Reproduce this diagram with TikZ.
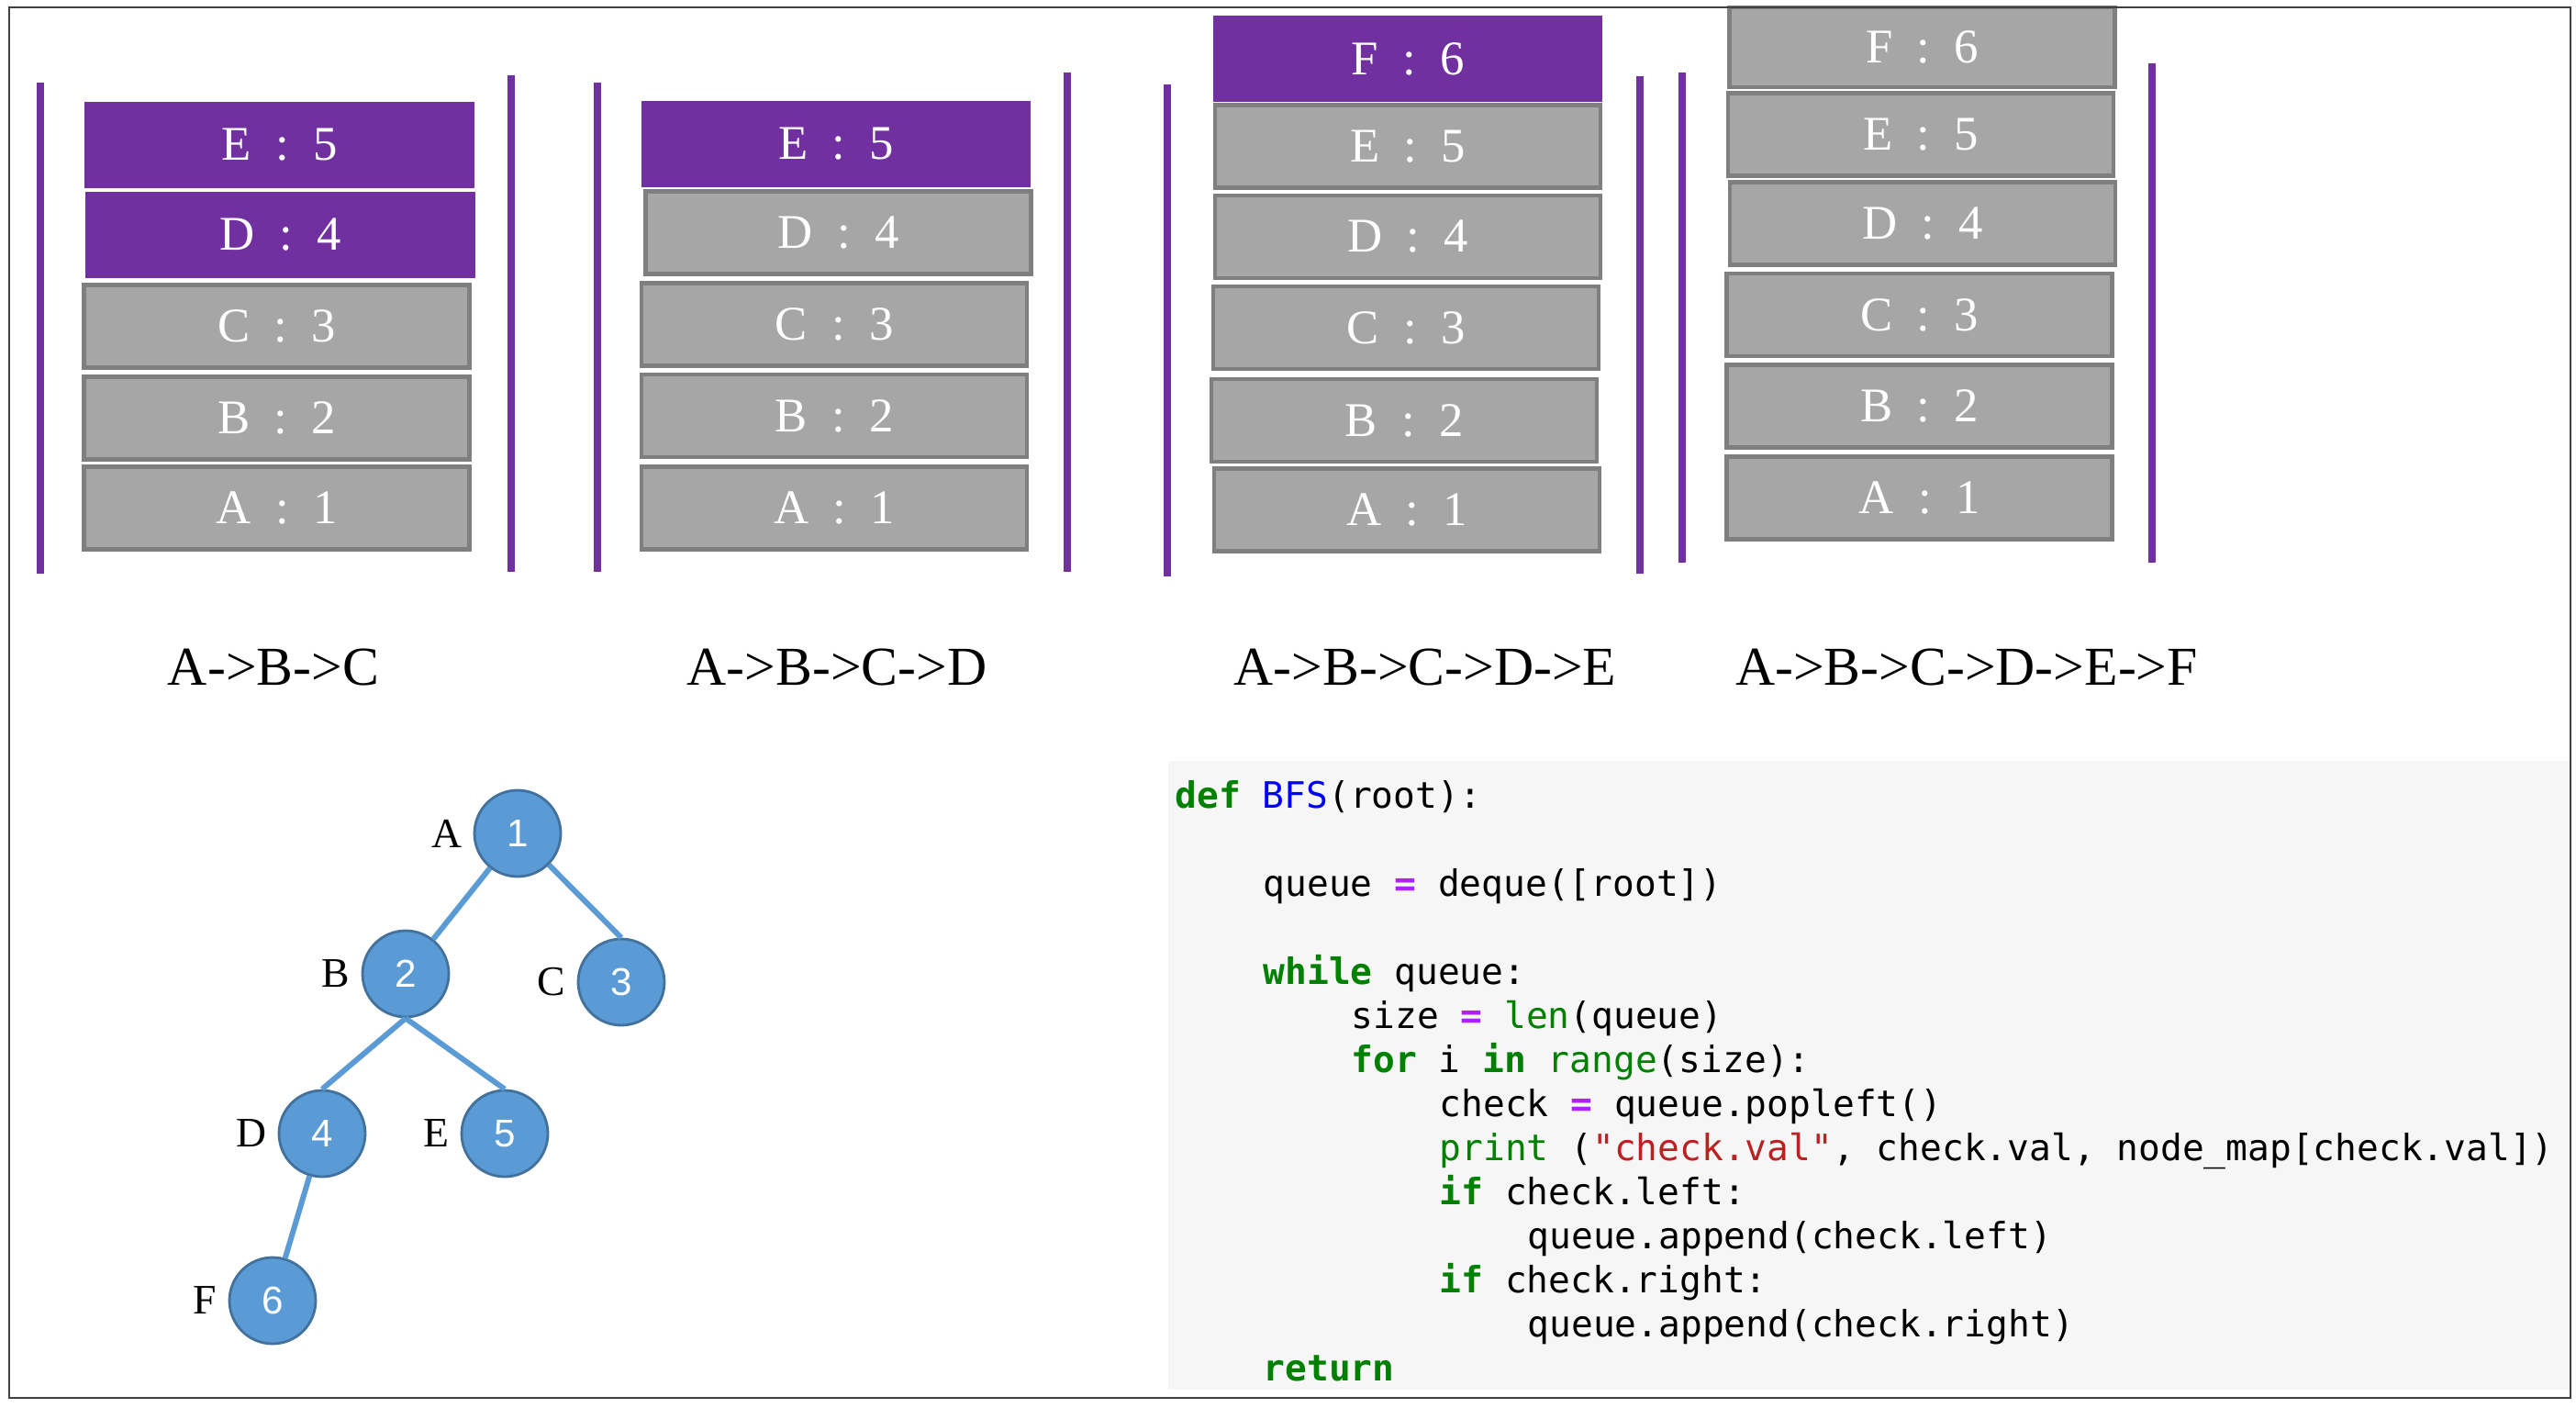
\documentclass[tikz,border=0pt]{standalone}
\usepackage{fontspec}
\setmainfont{Liberation Serif}
\newfontfamily\numfont{Liberation Sans}
\newfontfamily\codefont{DejaVu Sans Mono}
\usepackage{xcolor}
\definecolor{qpurple}{HTML}{7030A0}
\definecolor{qgray}{HTML}{A6A6A6}
\definecolor{qborder}{HTML}{7F7F7F}
\definecolor{tblue}{HTML}{5B9BD5}
\definecolor{tborder}{HTML}{41719C}
\definecolor{codebg}{HTML}{F6F6F6}
\definecolor{kwgreen}{HTML}{008000}
\definecolor{fnblue}{HTML}{0000FF}
\definecolor{oppurple}{HTML}{AA22FF}
\definecolor{strred}{HTML}{BA2121}
\newcommand{\pykw}[1]{\textcolor{kwgreen}{\textbf{#1}}}
\newcommand{\pybi}[1]{\textcolor{kwgreen}{#1}}
\newcommand{\pyfn}[1]{\textcolor{fnblue}{#1}}
\newcommand{\pyop}[1]{\textcolor{oppurple}{\textbf{#1}}}
\newcommand{\pystr}[1]{\textcolor{strred}{#1}}
\tikzset{
  qbox/.style={draw=qborder,line width=1.2pt,fill=qgray,text=white,minimum width=4.2cm,minimum height=0.9cm,inner sep=0pt,font=\fontsize{15pt}{18pt}\selectfont},
  qnew/.style={qbox,draw=qpurple,fill=qpurple},
  bar/.style={draw=qpurple,line width=2.3pt},
  order/.style={font=\fontsize{17pt}{20pt}\selectfont},
  tnode/.style={circle,fill=tblue,draw=tborder,line width=0.8pt,minimum size=0.94cm,inner sep=0pt,text=white,font=\numfont\fontsize{12pt}{14pt}\selectfont,label distance=4pt},
  lbl/.style={text=black,font=\fontsize{13pt}{15pt}\selectfont},
  tedge/.style={draw=tblue,line width=1.7pt},
  code/.style={anchor=base west,inner sep=0pt,font=\codefont\fontsize{11.25pt}{13.7pt}\selectfont}
}

\begin{document}
\begin{tikzpicture}
\useasboundingbox (0,0) rectangle (28.07,-15.34);

% queue after step 1
\node[qbox] (s1A) at (3.015,-5.535) {A\enspace:\enspace1};
\node[qbox] (s1B) at (3.015,-4.555) {B\enspace:\enspace2};
\node[qbox] (s1C) at (3.015,-3.555) {C\enspace:\enspace3};
\node[qnew] (s1D) at (3.055,-2.56) {D\enspace:\enspace4};
\node[qnew] (s1E) at (3.045,-1.58) {E\enspace:\enspace5};
\draw[bar] (0.44,-0.90) -- (0.44,-6.25);
\draw[bar] (5.57,-0.82) -- (5.57,-6.23);
\node[order] (o1) at (2.98,-7.27) {A->B->C};

% queue after step 2
\node[qbox] (s2A) at (9.09,-5.535) {A\enspace:\enspace1};
\node[qbox] (s2B) at (9.09,-4.53) {B\enspace:\enspace2};
\node[qbox] (s2C) at (9.09,-3.535) {C\enspace:\enspace3};
\node[qbox] (s2D) at (9.135,-2.535) {D\enspace:\enspace4};
\node[qnew] (s2E) at (9.11,-1.57) {E\enspace:\enspace5};
\draw[bar] (6.51,-0.90) -- (6.51,-6.23);
\draw[bar] (11.63,-0.79) -- (11.63,-6.23);
\node[order] (o2) at (9.12,-7.27) {A->B->C->D};

% queue after step 3
\node[qbox] (s3A) at (15.33,-5.555) {A\enspace:\enspace1};
\node[qbox] (s3B) at (15.30,-4.58) {B\enspace:\enspace2};
\node[qbox] (s3C) at (15.32,-3.57) {C\enspace:\enspace3};
\node[qbox] (s3D) at (15.34,-2.58) {D\enspace:\enspace4};
\node[qbox] (s3E) at (15.34,-1.595) {E\enspace:\enspace5};
\node[qnew] (s3F) at (15.34,-0.64) {F\enspace:\enspace6};
\draw[bar] (12.72,-0.92) -- (12.72,-6.28);
\draw[bar] (17.87,-0.83) -- (17.87,-6.25);
\node[order] (o3) at (15.53,-7.27) {A->B->C->D->E};

% queue after step 4
\node[qbox] (s4A) at (20.915,-5.425) {A\enspace:\enspace1};
\node[qbox] (s4B) at (20.915,-4.425) {B\enspace:\enspace2};
\node[qbox] (s4C) at (20.915,-3.43) {C\enspace:\enspace3};
\node[qbox] (s4D) at (20.95,-2.435) {D\enspace:\enspace4};
\node[qbox] (s4E) at (20.93,-1.465) {E\enspace:\enspace5};
\node[qbox,minimum height=0.87cm] (s4F) at (20.945,-0.515) {F\enspace:\enspace6};
\draw[bar] (18.33,-0.79) -- (18.33,-6.13);
\draw[bar] (23.45,-0.69) -- (23.45,-6.13);
\node[order] (o4) at (21.43,-7.27) {A->B->C->D->E->F};

% tree
\node[tnode,label={[lbl]left:A}] (A) at (5.64,-9.08) {1};
\node[tnode,label={[lbl]left:B}] (B) at (4.42,-10.61) {2};
\node[tnode,label={[lbl]left:C}] (C) at (6.77,-10.70) {3};
\node[tnode,label={[lbl]left:D}] (D) at (3.51,-12.35) {4};
\node[tnode,label={[lbl]left:E}] (E) at (5.50,-12.35) {5};
\node[tnode,label={[lbl]left:F}] (F) at (2.97,-14.17) {6};

\draw[tedge] (A) -- (B);
\draw[tedge] (A) -- (C.north);
\draw[tedge] (B.south) -- (D.north);
\draw[tedge] (B.south) -- (E.north);
\draw[tedge] (D) -- (F);

% code
\fill[codebg] (12.73,-8.29) rectangle (28.01,-15.14);
\node[code] (c0) at (12.80,-8.80) {\pykw{def} \pyfn{BFS}(root):};
\node[code] (c2) at (13.76,-9.761) {queue \pyop{=} deque([root])};
\node[code] (c4) at (13.76,-10.723) {\pykw{while} queue:};
\node[code] (c5) at (14.72,-11.203) {size \pyop{=} \pybi{len}(queue)};
\node[code] (c6) at (14.72,-11.684) {\pykw{for} i \pykw{in} \pybi{range}(size):};
\node[code] (c7) at (15.68,-12.165) {check \pyop{=} queue.popleft()};
\node[code] (c8) at (15.68,-12.646) {\pybi{print} (\pystr{"check.val"}, check.val, node\_map[check.val])};
\node[code] (c9) at (15.68,-13.126) {\pykw{if} check.left:};
\node[code] (c10) at (16.64,-13.607) {queue.append(check.left)};
\node[code] (c11) at (15.68,-14.088) {\pykw{if} check.right:};
\node[code] (c12) at (16.64,-14.568) {queue.append(check.right)};
\node[code] (c13) at (13.76,-15.049) {\pykw{return}};

\draw[black!75,line width=0.6pt] (0.10,-0.08) rectangle (28.01,-15.23);
\end{tikzpicture}
\end{document}
